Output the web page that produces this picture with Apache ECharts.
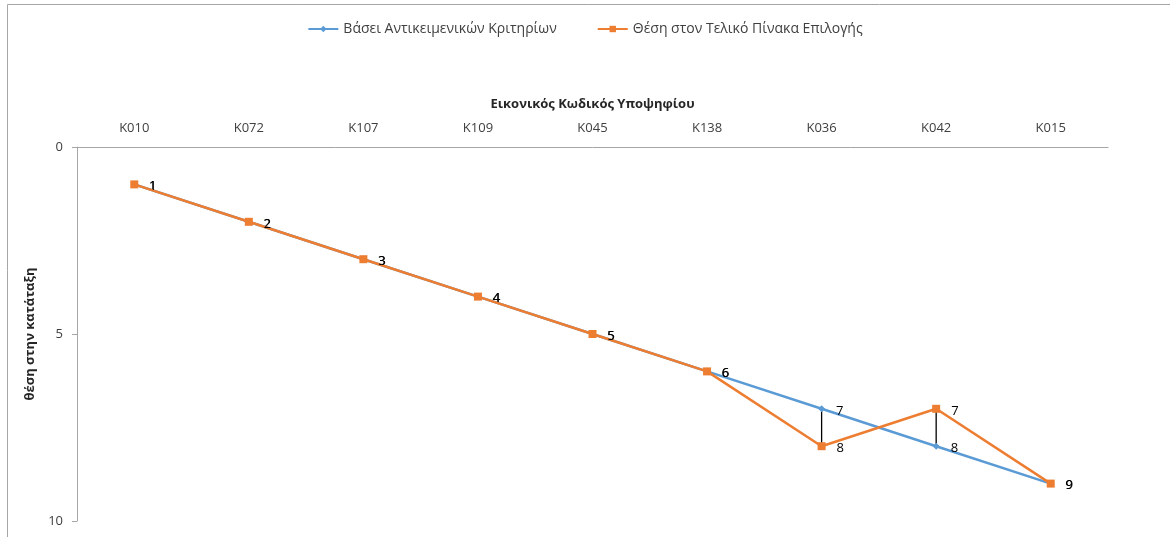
<!DOCTYPE html>
<html><head><meta charset="utf-8">
<script src="https://cdn.jsdelivr.net/npm/echarts@6/dist/echarts.min.js"></script>
<style>html,body{margin:0;padding:0;background:#fff}#c{width:1170px;height:537px}</style>
</head><body><div id="c"></div>
<script>
const categories = ['K010','K072','K107','K109','K045','K138','K036','K042','K015'];
const objectiveRank = [1,2,3,4,5,6,7,8,9];
const finalRank = [1,2,3,4,5,6,8,7,9];
const yTicks = [0,5,10];
const seriesNames = ['Βάσει Αντικειμενικών Κριτηρίων','Θέση στον Τελικό Πίνακα Επιλογής'];

const FONT = 'Open Sans';
const chart = echarts.init(document.getElementById('c'));
const hiLo = categories.map((c,i)=>[i, objectiveRank[i], finalRank[i]]);
chart.setOption({
  animation:false,
  textStyle:{fontFamily:FONT},
  graphic:[
    {type:'line',shape:{x1:7.5,y1:4.5,x2:1170,y2:4.5},style:{stroke:'#a6a6a6',lineWidth:1}},
    {type:'line',shape:{x1:7.5,y1:4.5,x2:7.5,y2:537},style:{stroke:'#a6a6a6',lineWidth:1}}
  ],
  legend:{
    top:17, left:'center', itemGap:40, itemWidth:30, itemHeight:8,
    textStyle:{fontFamily:FONT,fontSize:14,color:'#404040'},
    data:seriesNames
  },
  grid:{left:77,right:62,top:147,bottom:16,containLabel:false},
  xAxis:{
    type:'category', position:'top', data:categories, boundaryGap:true,
    name:'Εικονικός Κωδικός Υποψηφίου', nameLocation:'middle', nameGap:36,
    nameTextStyle:{fontFamily:FONT,fontSize:13,fontWeight:'bold',color:'#262626'},
    axisLine:{lineStyle:{color:'#a6a6a6',width:1}},
    axisTick:{show:false},
    axisLabel:{margin:12,fontFamily:FONT,fontSize:13,color:'#404040'}
  },
  yAxis:{
    type:'value', inverse:true, min:yTicks[0], max:yTicks[yTicks.length-1], interval:5,
    name:'θέση στην κατάταξη', nameLocation:'middle', nameGap:37,
    nameTextStyle:{fontFamily:FONT,fontSize:13,fontWeight:'bold',color:'#262626'},
    axisLine:{show:true,lineStyle:{color:'#a6a6a6',width:1}},
    axisTick:{show:true,length:5,lineStyle:{color:'#a6a6a6'}},
    splitLine:{show:false},
    axisLabel:{margin:14,fontFamily:FONT,fontSize:13,color:'#404040'}
  },
  series:[
    {
      type:'custom', name:'hilo', z:1, silent:true,
      renderItem:(params,api)=>{
        const i=api.value(0);
        const p1=api.coord([i,api.value(1)]);
        const p2=api.coord([i,api.value(2)]);
        return {type:'line',shape:{x1:p1[0],y1:p1[1],x2:p2[0],y2:p2[1]},style:{stroke:'#000',lineWidth:1.3}};
      },
      encode:{x:0,y:[1,2]},
      data:hiLo
    },
    {
      type:'line', name:seriesNames[0], data:objectiveRank, z:3,
      symbol:'diamond', symbolSize:7,
      lineStyle:{color:'#5B9BD5',width:2.5},
      itemStyle:{color:'#5B9BD5'},
      label:{show:true,position:'right',distance:11,offset:[0,2],fontFamily:FONT,fontSize:13,color:'#000'}
    },
    {
      type:'line', name:seriesNames[1], data:finalRank, z:4,
      symbol:'rect', symbolSize:8,
      lineStyle:{color:'#ED7D31',width:2.5},
      itemStyle:{color:'#ED7D31'},
      label:{show:true,position:'right',distance:11,offset:[0,2],fontFamily:FONT,fontSize:13,color:'#000'}
    }
  ]
});
</script></body></html>
